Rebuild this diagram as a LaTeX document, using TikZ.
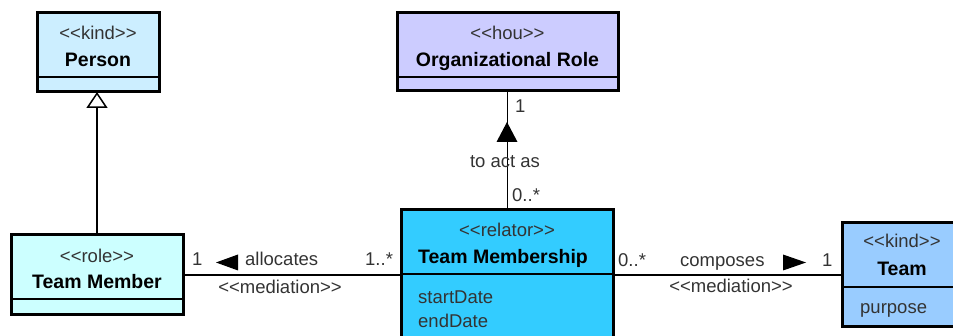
\documentclass[tikz,border=0pt]{standalone}
\usepackage{fontspec}
\setmainfont{Liberation Sans}
\newfontfamily\umlfont{Liberation Sans}
\usetikzlibrary{arrows.meta}
\definecolor{personc}{HTML}{CCEEFF}
\definecolor{rolec}{HTML}{CCFFFF}
\definecolor{houc}{HTML}{CCCCFF}
\definecolor{relc}{HTML}{33CCFF}
\definecolor{teamc}{HTML}{99CCFF}
\definecolor{txtgrey}{HTML}{333333}
\begin{document}
\begin{tikzpicture}[x=1pt,y=-1pt,
  box/.style={draw=black, line width=3pt, inner sep=0pt, outer sep=0pt, rectangle},
  sepline/.style={line width=1.5pt},
  conn/.style={line width=1.5pt},
  st/.style={text=txtgrey, font=\umlfont\fontsize{18.5}{22}\selectfont, anchor=base, inner sep=0pt},
  nm/.style={text=black, font=\umlfont\bfseries\fontsize{19.5}{22}\selectfont, anchor=base, inner sep=0pt},
  attr/.style={text=txtgrey, font=\umlfont\fontsize{18.5}{22}\selectfont, anchor=base west, inner sep=0pt},
  lbl/.style={text=txtgrey, font=\umlfont\fontsize{18.5}{22}\selectfont, anchor=base west, inner sep=0pt},
  lblc/.style={text=txtgrey, font=\umlfont\fontsize{18.5}{22}\selectfont, anchor=base, inner sep=0pt},
  reading/.style={fill=black}
]
\useasboundingbox (0,0) rectangle (953,336);
\clip (0,0) rectangle (953,336);

% Person
\node[box, fill=personc, minimum width=122pt, minimum height=79pt] (person) at (98,52.5) {};
\draw[sepline] (37,77) -- (159,77);
\node[st] (personst) at (98,40) {<<kind>>};
\node[nm] (personnm) at (98,67) {Person};

% Organizational Role
\node[box, fill=houc, minimum width=221pt, minimum height=78pt] (orole) at (507.5,52) {};
\draw[sepline] (397,77) -- (618,77);
\node[st] (orolest) at (507.5,40) {<<hou>>};
\node[nm] (orolenm) at (507.5,67) {Organizational Role};

% Team Member
\node[box, fill=rolec, minimum width=172pt, minimum height=80pt] (tmember) at (97,275) {};
\draw[sepline] (11,299) -- (183,299);
\node[st] (tmemberst) at (97,263) {<<role>>};
\node[nm] (tmembernm) at (97,289) {Team Member};

% Team Membership
\node[box, fill=relc, minimum width=212pt, minimum height=140pt] (tmship) at (507,280) {};
\draw[sepline] (401,274) -- (613,274);
\node[st] (tmshipst) at (507,237) {<<relator>>};
\node[nm] (tmshipnm) at (503,264) {Team Membership};
\node[attr] (startd) at (418,304) {startDate};
\node[attr] (endd) at (418,328) {endDate};

% Team
\node[box, fill=teamc, minimum width=120pt, minimum height=104pt] (team) at (902,275) {};
\draw[sepline] (842,287) -- (962,287);
\node[st] (teamst) at (902,248) {<<kind>>};
\node[nm] (teamnm) at (902,276) {Team};
\node[attr] (purp) at (860,314) {purpose};

% Generalization Team Member -> Person
\draw[conn, -{Triangle[open, length=16pt, width=21pt, line width=1.5pt]}]
  (tmember.north) -- (tmember.north |- person.south);

% Team Membership -> Organizational Role
\draw[conn] (tmship.north -| orole.south) -- (orole.south);
\fill[reading] (507,122) -- (496.5,142) -- (517.5,142) -- cycle;
\node[lbl] (l1) at (515,113) {1};
\node[lblc] (lact) at (505,168) {to act as};
\node[lbl] (l0m) at (512,202) {0..*};

% Team Member -- Team Membership
\draw[conn] (tmember.east) -- (tmember.east -| tmship.west);
\node[lbl] (a1) at (192,266) {1};
\fill[reading] (216,262.5) -- (238,254.5) -- (238,270.5) -- cycle;
\node[lbl] (alloc) at (245,266) {allocates};
\node[lbl] (a1m) at (365,266) {1..*};
\node[lblc] (amed) at (280,294) {<<mediation>>};

% Team Membership -- Team
\draw[conn] (team.west -| tmship.east) -- (team.west);
\node[lbl] (c0m) at (618,267) {0..*};
\node[lbl] (comp) at (680,267) {composes};
\fill[reading] (806,262.5) -- (783,254.5) -- (783,270.5) -- cycle;
\node[lbl] (c1) at (822,267) {1};
\node[lblc] (cmed) at (731,293) {<<mediation>>};
\end{tikzpicture}
\end{document}
